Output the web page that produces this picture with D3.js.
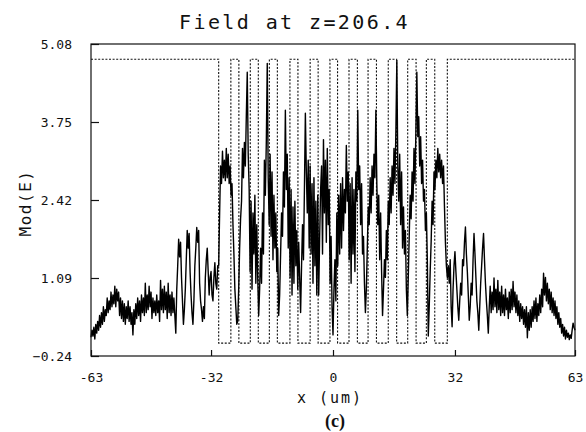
<!DOCTYPE html>
<html>
<head>
<meta charset="utf-8">
<script src="https://cdn.jsdelivr.net/npm/d3@7"></script>
<style>
  body { margin: 0; background: #fff; }
  svg text { font-family: 'DejaVu Sans Mono', monospace; fill: #111; }
</style>
</head>
<body>
<div id="chart-container"></div>
<script>
const xStart = -63.5;
const xStep = 0.25;
// -63.5 .. -30.25
const fieldLeft = [
  0.08, 0.2, 0.1, 0.25, 0.05, 0.3, 0.15, 0.35,
  0.2, 0.45, 0.25, 0.5, 0.3, 0.6, 0.35, 0.55,
  0.45, 0.75, 0.5, 0.7, 0.55, 0.85, 0.6, 0.8,
  0.65, 0.95, 0.6, 0.9, 0.7, 0.85, 0.45, 0.75,
  0.4, 0.7, 0.35, 0.65, 0.3, 0.6, 0.4, 0.7,
  0.35, 0.6, 0.3, 0.5, 0.12, 0.55, 0.3, 0.65,
  0.4, 0.75, 0.45, 0.7, 0.35, 0.8, 0.5, 0.75,
  0.45, 1.0, 0.5, 0.8, 0.55, 0.95, 0.6, 0.85,
  0.4, 0.75, 0.5, 0.7, 0.45, 0.8, 0.5, 0.7,
  0.35, 1.05, 0.55, 0.9, 0.5, 0.95, 0.55, 0.85,
  0.4, 1.0, 0.5, 0.8, 0.45, 0.85, 0.5, 0.75,
  0.45, 0.15, 0.9, 1.3, 1.75, 1.45, 1.7, 1.1,
  0.7, 0.3, 0.55, 0.9, 1.4, 1.9, 1.6, 1.85,
  1.2, 0.8, 0.5, 0.3, 0.7, 1.3, 1.6, 1.95,
  1.7, 1.9, 1.0, 0.7, 0.55, 0.35, 0.6, 0.4,
  1.1, 1.4, 1.6, 1.2, 0.8, 1.1, 1.2, 0.8,
  0.7, 1.1, 1.35, 1.0, 0.9, 1.3,
];
// -30 .. 30
const fieldCore = [
  1.3, 2.2, 3.0, 2.7, 3.25, 2.8, 3.1, 2.75,
  3.3, 2.8, 3.2, 2.7, 3.0, 2.5, 2.7, 2.0,
  1.5, 0.9, 0.6, 0.3, 0.35, 0.9, 1.6, 2.1,
  2.4, 3.3, 2.8, 3.4, 3.0, 3.84, 4.6, 3.2,
  2.6, 1.2, 2.4, 0.9, 2.2, 1.5, 2.5, 1.0,
  2.0, 1.1, 0.45, 0.9, 1.6, 1.0, 2.2, 1.5,
  3.1, 2.5, 3.4, 4.75, 2.8, 2.0, 3.2, 1.8,
  2.9, 1.4, 2.5, 1.6, 2.2, 1.2, 1.6, 0.45,
  0.8, 1.5, 2.2, 1.8, 2.9, 2.3, 3.95, 2.6,
  3.2, 1.6, 2.8, 1.1, 2.6, 0.8, 2.3, 1.0,
  2.4, 1.3, 1.9, 0.9, 1.7, 1.1, 0.5, 1.3,
  2.0, 1.4, 2.6, 3.9, 2.9, 2.2, 3.1, 1.6,
  3.0, 1.5, 2.7, 1.0, 2.8, 1.3, 2.4, 0.8,
  2.5, 0.8, 1.8, 2.6, 3.0, 1.5, 3.45, 2.2,
  3.1, 1.7, 3.3, 2.0, 2.6, 1.0, 1.8, 0.6,
  0.12, 0.9, 1.4, 0.7, 2.2, 1.3, 2.5, 1.5,
  2.7, 1.6, 2.8, 1.9, 2.6, 2.2, 3.35, 2.4,
  2.9, 1.4, 2.7, 1.0, 2.8, 1.5, 2.6, 1.2,
  2.9, 2.4, 3.95, 2.6, 3.0, 2.0, 2.7, 1.5,
  1.8, 1.0, 0.5, 0.9, 1.6, 2.3, 2.0, 2.8,
  2.2, 3.0, 2.5, 3.2, 2.8, 3.95, 2.7, 2.0,
  2.5, 1.4, 2.2, 1.2, 0.45, 0.9, 1.4, 1.1,
  1.9, 1.4, 2.4, 2.0, 2.8, 2.2, 3.0, 2.5,
  3.3, 2.7, 3.6, 4.8, 3.0, 2.4, 3.2, 2.0,
  2.9, 1.6, 2.3, 1.5, 1.9, 0.9, 0.45, 1.1,
  1.8, 2.5, 2.1, 2.9, 2.4, 3.3, 2.7, 3.6,
  4.6, 3.5, 3.84, 3.0, 3.5, 2.7, 3.1, 2.4,
  2.6, 1.9, 2.2, 1.4, 0.1, 0.6, 1.2, 1.7,
  2.4, 2.0, 2.9, 2.6, 3.1, 2.8, 3.3, 2.9,
  3.2, 2.8, 3.1, 2.7, 3.0, 2.3, 1.7, 1.3,
  1.1,
];
// 30.25 .. 63.5
const fieldRight = [
  1.3, 1.0, 1.4, 0.6, 0.26, 0.9, 1.3, 1.54,
  1.2, 0.9, 0.6, 0.37, 0.7, 1.0, 0.8, 1.4,
  1.3, 1.7, 1.96, 1.5, 1.2, 0.8, 0.37, 0.6,
  1.0, 0.8, 1.4, 1.85, 1.5, 1.1, 0.7, 0.5,
  0.2, 0.6, 1.0, 1.3, 1.6, 1.85, 1.4, 1.0,
  0.7, 0.45, 0.15, 0.6, 0.95, 0.5, 0.85, 0.55,
  1.09, 0.6, 0.9, 0.5, 1.05, 0.55, 0.85, 0.45,
  0.95, 0.5, 0.8, 0.45, 0.9, 0.55, 0.75, 0.4,
  0.85, 0.5, 0.9, 0.55, 1.03, 0.6, 0.85, 0.5,
  0.8, 0.45, 0.7, 0.35, 0.65, 0.4, 0.6, 0.3,
  0.55, 0.25, 0.6, 0.07, 0.5, 0.2, 0.55, 0.25,
  0.6, 0.35, 0.7, 0.4, 0.75, 0.35, 0.65, 0.45,
  0.8, 0.5, 0.9, 0.6, 1.17, 0.8, 1.1, 0.7,
  1.0, 0.65, 0.9, 0.55, 0.85, 0.5, 0.75, 0.45,
  0.7, 0.4, 0.6, 0.3, 0.5, 0.25, 0.4, 0.15,
  0.3, 0.1, 0.25, 0.05, 0.2, 0.08, 0.15, 0.04,
  0.12, 0.06, 0.2, 0.32, 0.25, 0.2,
];

// dotted grating profile: level flips at each edge (starts high)
const gratingEdges = [
  -30.0, -26.8, -24.7, -21.7, -19.6, -16.7, -14.6, -11.3, -9.2, -6.0, -3.9, -0.8,
  1.2, 4.2, 6.4, 9.2, 11.4, 14.5, 16.7, 19.6, 21.8, 24.5, 26.7, 30.0,
];
const gratingHigh = 4.82;
const gratingLow = -0.02;

const xTicks = [-63.5, -32, 0, 32, 63.5];
const xTickLabels = ['-63', '-32', '0', '32', '63'];
const yTicks = [-0.24, 1.09, 2.42, 3.75, 5.08];

const W = 586;
const H = 432;
const margin = {top: 44, right: 11, bottom: 76, left: 91};
const width = W - margin.left - margin.right;
const height = H - margin.top - margin.bottom;

const root = d3.select('#chart-container')
    .append('svg')
    .attr('width', W)
    .attr('height', H);

const svg = root.append('g')
    .attr('transform', `translate(${margin.left}, ${margin.top})`);

const x = d3.scaleLinear().domain([-63.5, 63.5]).range([0, width]);
const y = d3.scaleLinear().domain([-0.24, 5.08]).range([height, 0]);

// build the sample table
const field = fieldLeft.concat(fieldCore, fieldRight)
    .map((v, i) => ({x: xStart + i * xStep, v: v}));

const grating = [{x: -63.5, v: gratingHigh}];
let level = gratingHigh;
gratingEdges.forEach((e) => {
  grating.push({x: e, v: level});
  level = level === gratingHigh ? gratingLow : gratingHigh;
  grating.push({x: e, v: level});
});
grating.push({x: 63.5, v: level});

const line = d3.line()
    .x((d) => x(d.x))
    .y((d) => y(d.v));

svg.append('path')
    .datum(grating)
    .attr('d', line)
    .attr('fill', 'none')
    .attr('stroke', '#111')
    .attr('stroke-width', 1.1)
    .attr('stroke-dasharray', '2,1.6');

svg.append('path')
    .datum(field)
    .attr('d', line)
    .attr('fill', 'none')
    .attr('stroke', '#000')
    .attr('stroke-width', 1.4)
    .attr('stroke-linejoin', 'round');

// axes, ticks point inward
const yAxis = svg.append('g')
    .call(d3.axisLeft(y)
        .tickValues(yTicks)
        .tickFormat(d3.format('.2f'))
        .tickSizeInner(-8)
        .tickSizeOuter(0)
        .tickPadding(19));

const xAxis = svg.append('g')
    .attr('transform', `translate(0, ${height})`)
    .call(d3.axisBottom(x)
        .tickValues(xTicks)
        .tickFormat((d, i) => xTickLabels[i])
        .tickSizeInner(-6)
        .tickSizeOuter(0)
        .tickPadding(17));

[yAxis, xAxis].forEach((a) => {
  a.select('.domain').remove();
  a.selectAll('line').attr('stroke', '#111').attr('stroke-width', 1.2);
  a.selectAll('text')
      .attr('font-size', '13px')
      .attr('font-family', 'DejaVu Sans Mono, monospace')
      .attr('fill', '#111');
});

// frame
svg.append('rect')
    .attr('x', 0)
    .attr('y', 0)
    .attr('width', width)
    .attr('height', height)
    .attr('fill', 'none')
    .attr('stroke', '#111')
    .attr('stroke-width', 1.2);

root.append('text')
    .attr('x', 179)
    .attr('y', 29)
    .attr('font-size', '20px')
    .attr('letter-spacing', '2.4px')
    .text('Field at z=206.4');

root.append('text')
    .attr('transform', 'translate(31, 203) rotate(-90)')
    .attr('text-anchor', 'middle')
    .attr('font-size', '16px')
    .attr('letter-spacing', '1.5px')
    .text('Mod(E)');

root.append('text')
    .attr('x', 330)
    .attr('y', 403)
    .attr('text-anchor', 'middle')
    .attr('font-size', '15px')
    .attr('letter-spacing', '2px')
    .text('x (um)');

root.append('text')
    .attr('x', 335)
    .attr('y', 427)
    .attr('text-anchor', 'middle')
    .attr('font-size', '18px')
    .attr('font-weight', 'bold')
    .style('font-family', '"Liberation Serif", "DejaVu Serif", serif')
    .text('(c)');
</script>
</body>
</html>
